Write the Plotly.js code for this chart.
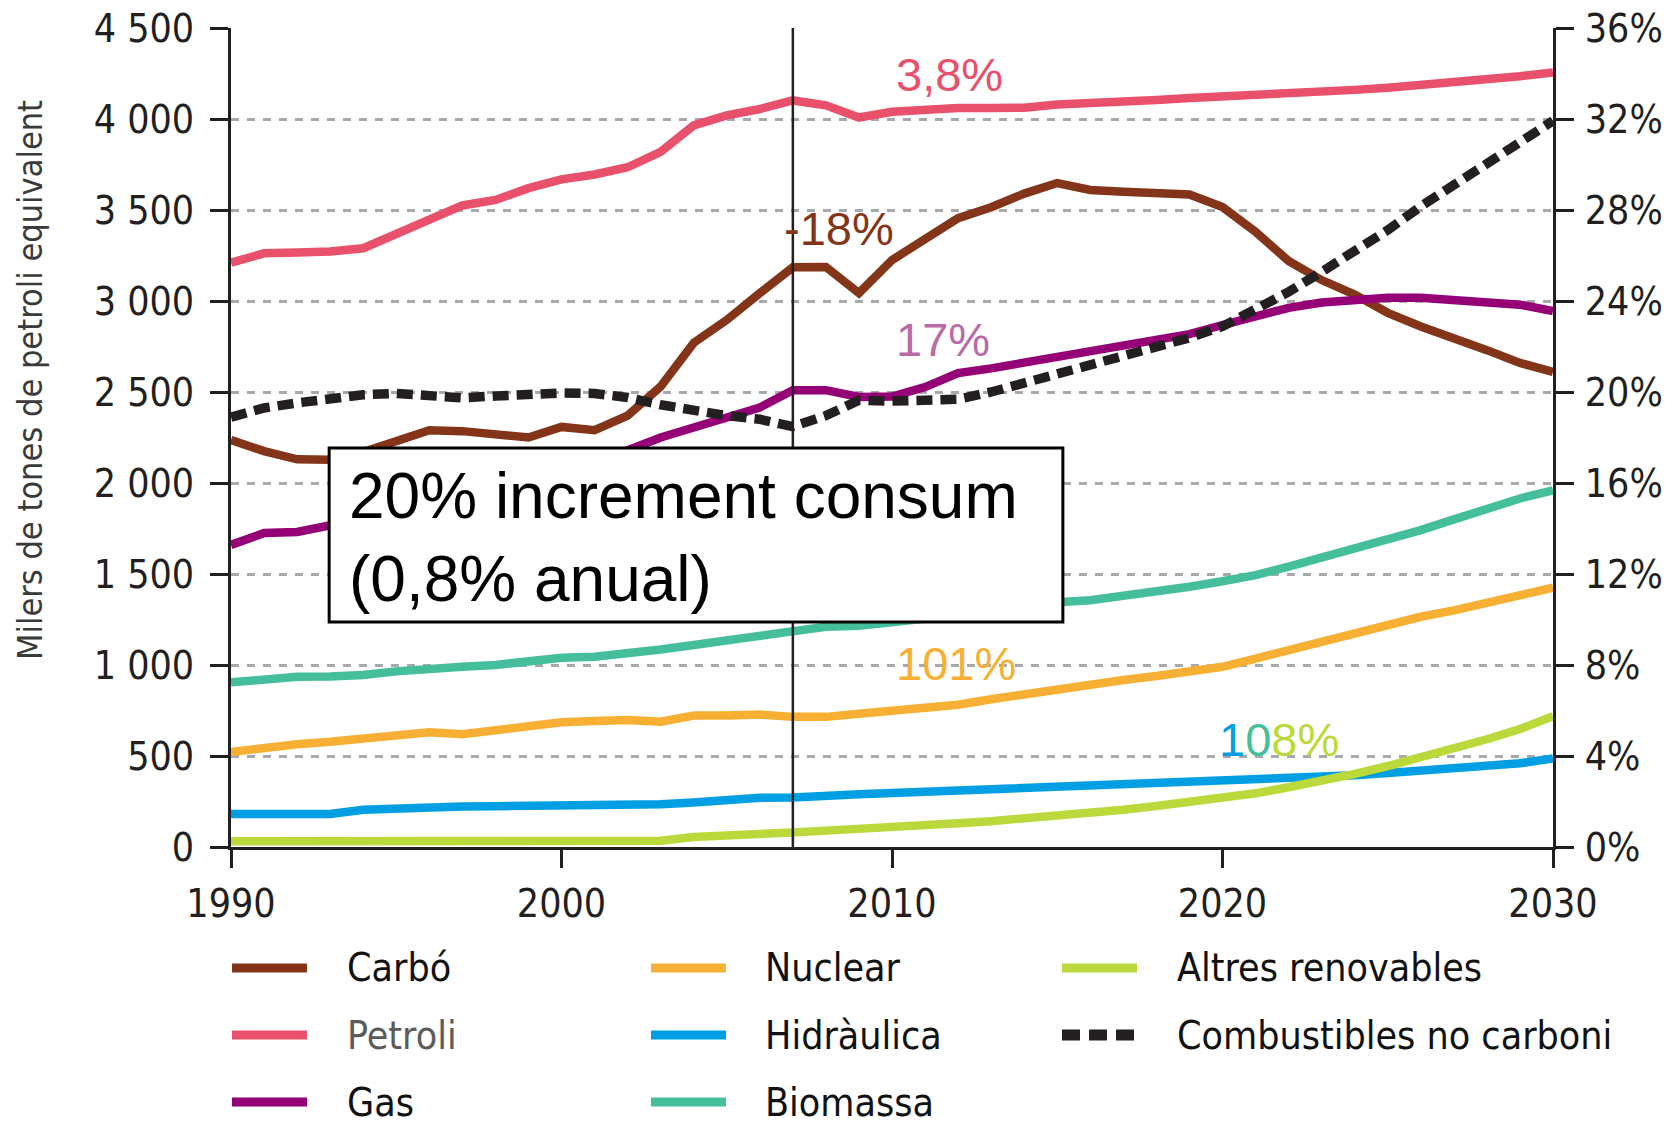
<!DOCTYPE html>
<html>
<head>
<meta charset="utf-8">
<script src="https://cdn.plot.ly/plotly-3.0.1.min.js"></script>
<style>
html,body{margin:0;padding:0;background:#ffffff;}
#chart{width:1678px;height:1124px;}
</style>
</head>
<body>
<div id="chart"></div>
<script>
// ---------- DATA ----------
const years = [1990,1991,1992,1993,1994,1995,1996,1997,1998,1999,
               2000,2001,2002,2003,2004,2005,2006,2007,2008,2009,
               2010,2011,2012,2013,2014,2015,2016,2017,2018,2019,
               2020,2021,2022,2023,2024,2025,2026,2027,2028,2029,2030];

const carbo = [2236,2175,2130,2128,2170,2235,2290,2285,2268,2250,
               2308,2290,2370,2530,2770,2896,3043,3185,3187,3044,
               3225,3340,3455,3515,3590,3648,3610,3600,3590,3585,
               3516,3380,3220,3115,3035,2935,2860,2800,2730,2660,2610];

const petroli = [3210,3262,3266,3272,3290,3365,3445,3525,3555,3620,
                 3668,3695,3735,3820,3965,4020,4055,4102,4075,4008,
                 4040,4055,4060,4060,4062,4080,4085,4095,4105,4115,
                 4122,4130,4138,4148,4160,4172,4186,4200,4218,4235,4255];

const gas = [1660,1725,1731,1765,1800,1840,1880,1925,1970,2015,
             2060,2110,2180,2250,2305,2362,2415,2510,2510,2473,
             2475,2527,2604,2630,2660,2690,2718,2747,2782,2818,
             2868,2918,2962,2992,3008,3018,3018,3005,2992,2980,2945];

const nuclear = [522,548,565,578,592,612,630,620,640,665,
                 685,692,698,688,722,722,728,715,715,732,
                 750,765,782,812,841,865,894,918,940,962,
                 990,1035,1082,1129,1171,1224,1265,1300,1341,1382,1425];

const hidraulica = [181,181,181,181,205,214,218,222,224,225,
                    225,225,228,235,245,262,270,272,285,290,
                    297,304,310,316,322,328,334,340,346,352,
                    360,366,375,382,394,406,418,430,444,460,487];

const biomassa = [905,925,935,937,945,965,983,990,1000,1020,
                  1040,1045,1060,1085,1110,1135,1155,1180,1210,1215,
                  1232,1255,1275,1298,1322,1345,1356,1378,1405,1430,
                  1460,1494,1540,1588,1635,1688,1741,1800,1860,1915,1960];

const altresRenovables = [32,32,32,32,32,32,32,32,32,32,
                          32,32,32,34,55,60,70,80,90,98,
                          108,118,130,142,155,170,187,205,225,248,
                          268,295,328,362,402,445,492,540,592,648,718];

const combustiblesNoCarboni = [2362,2412,2440,2465,2485,2492,2478,2468,2478,2490,
                               2495,2492,2470,2430,2395,2370,2350,2310,2370,2455,
                               2450,2450,2460,2500,2550,2600,2645,2695,2745,2798,
                               2860,2950,3050,3160,3270,3390,3520,3640,3750,3870,3990];

const xTickVals = [1990,2000,2010,2020,2030];
const xTickText = ['1990','2000','2010','2020','2030'];
const yTickVals = [0,500,1000,1500,2000,2500,3000,3500,4000,4500];
const yTickText = ['0','500','1 000','1 500','2 000','2 500','3 000','3 500','4 000','4 500'];
const y2TickVals = [0,4,8,12,16,20,24,28,32,36];
const y2TickText = ['0%','4%','8%','12%','16%','20%','24%','28%','32%','36%'];

const seriesNames = ['Carbó','Petroli','Gas','Nuclear','Hidràulica','Biomassa','Altres renovables','Combustibles no carboni'];
const dividerYear = 2007;
const boxText = '20% increment consum<br>(0,8% anual)';
const changeLabels = ['3,8%','-18%','17%','101%'];
const changeLabelPos = [[2011.75,4242],[2008.4,3401],[2011.55,2786],[2011.95,1010]];
const renewLabelPos = [2021.7,591];
const boxRange = {x0:1992.97, x1:2015.17, y0:1236, y1:2192};
const boxTextPos = [1993.5, 1700];

// ---------- STYLE ----------
const C = {
  carbo:'#843519', petroli:'#e9506b', gas:'#950077', nuclear:'#f7b033',
  hidraulica:'#009fe3', biomassa:'#45bf9b', altres:'#bcd93b', comb:'#231f20'
};
const NARROW = '"DejaVu Sans Condensed", "Liberation Sans Narrow", sans-serif';
const ARIAL = '"Liberation Sans", Arial, sans-serif';
const INK = '#231f20';

const seriesDefs = [
  {name:seriesNames[0], y:carbo, color:C.carbo},
  {name:seriesNames[2], y:gas, color:C.gas},
  {name:seriesNames[1], y:petroli, color:C.petroli},
  {name:seriesNames[3], y:nuclear, color:C.nuclear},
  {name:seriesNames[5], y:biomassa, color:C.biomassa},
  {name:seriesNames[4], y:hidraulica, color:C.hidraulica},
  {name:seriesNames[6], y:altresRenovables, color:C.altres},
  {name:seriesNames[7], y:combustiblesNoCarboni, color:C.comb, dash:'16px,8px', width:9.5}
];

const traces = seriesDefs.map(s => ({
  type:'scatter', mode:'lines', x:years, y:s.y, name:s.name,
  line:{color:s.color, width:s.width||8.5, dash:s.dash||'solid', shape:'linear'},
  cliponaxis:true, hoverinfo:'x+y+name', showlegend:false
}));
// invisible trace to activate the right-hand percentage axis
traces.push({type:'scatter', mode:'lines', x:[years[0], years[years.length-1]], y:[0,0],
  yaxis:'y2', line:{color:'rgba(0,0,0,0)', width:0}, hoverinfo:'skip', showlegend:false});

// ---------- LAYOUT ----------
const L = 231, R = 1553, T = 28, B = 847;
const px = v => (v - L) / (R - L);
const py = v => (B - v) / (B - T);

const shapes = [
  {type:'line', xref:'x', yref:'y', x0:dividerYear, x1:dividerYear, y0:0, y1:4500,
   line:{color:INK, width:2.5}, layer:'above'},
  {type:'rect', xref:'x', yref:'y', x0:boxRange.x0, x1:boxRange.x1, y0:boxRange.y0, y1:boxRange.y1,
   fillcolor:'#ffffff', line:{color:'#000000', width:3}, layer:'above'}
];

const annotations = [];
const changeColors = [C.petroli, C.carbo, '#b86ba6', C.nuclear];
changeLabels.forEach((t,i) => {
  annotations.push({xref:'x', yref:'y', x:changeLabelPos[i][0], y:changeLabelPos[i][1],
    text:t, showarrow:false, xanchor:'center', yanchor:'middle',
    font:{family:ARIAL, size:47, color:changeColors[i]}});
});
annotations.push({xref:'x', yref:'y', x:renewLabelPos[0], y:renewLabelPos[1],
  text:'<span style="color:'+C.hidraulica+'">1</span><span style="color:'+C.biomassa+'">0</span><span style="color:'+C.altres+'">8%</span>',
  showarrow:false, xanchor:'center', yanchor:'middle', font:{family:ARIAL, size:47, color:C.altres}});
annotations.push({xref:'x', yref:'y', x:boxTextPos[0], y:boxTextPos[1], text:boxText,
  showarrow:false, xanchor:'left', yanchor:'middle', align:'left',
  font:{family:ARIAL, size:64, color:'#000000'}});
// y axis title
annotations.push({xref:'paper', yref:'paper', x:px(30), y:py(380), text:'Milers de tones de petroli equivalent',
  textangle:-90, showarrow:false, xanchor:'center', yanchor:'middle',
  font:{family:'"DejaVu Sans Condensed", "DejaVu Sans", sans-serif', size:34, color:'#3a3a3a'}});

// manual legend (three columns)
const legendCols = [[0,1,2],[3,4,5],[6,7]];
const colLineX = [232, 651, 1062];
const colTextX = [345, 763, 1175];
const rowY = [968, 1035, 1102];
const colorByName = {};
seriesDefs.forEach(s => colorByName[s.name] = s);
legendCols.forEach((col, ci) => {
  col.forEach((si, ri) => {
    const s = colorByName[seriesNames[si]];
    const isDash = !!s.dash;
    shapes.push({type:'line', xref:'paper', yref:'paper',
      x0:px(colLineX[ci]), x1:px(colLineX[ci]+75), y0:py(rowY[ri]), y1:py(rowY[ri]),
      line:{color:s.color, width:isDash?11:9, dash:isDash?'18px,9px':'solid'}});
    annotations.push({xref:'paper', yref:'paper', x:px(colTextX[ci]), y:py(rowY[ri]),
      text:s.name, showarrow:false, xanchor:'left', yanchor:'middle',
      font:{family:NARROW, size:39, color: s.name==='Petroli' ? '#5b5b5b' : '#111111'}});
  });
});

const axisCommon = {
  showline:true, linecolor:INK, linewidth:3, ticks:'outside', ticklen:18, tickwidth:3,
  tickcolor:INK, zeroline:false, fixedrange:true,
  tickfont:{family:NARROW, size:39, color:INK}
};

const layout = {
  width:1678, height:1124,
  margin:{l:L, r:1678-R, t:T, b:1124-B, pad:0},
  paper_bgcolor:'#ffffff', plot_bgcolor:'#ffffff',
  showlegend:false,
  xaxis:Object.assign({}, axisCommon, {range:[1990,2030], tickmode:'array', tickvals:xTickVals,
    ticktext:xTickText, showgrid:false, ticklabelstandoff:2}),
  yaxis:Object.assign({}, axisCommon, {range:[0,4500], tickmode:'array', tickvals:yTickVals,
    ticktext:yTickText, showgrid:true, gridcolor:'#a7a9ac', gridwidth:3, griddash:'8px,8px',
    ticklabelstandoff:8}),
  yaxis2:Object.assign({}, axisCommon, {range:[0,36], overlaying:'y', side:'right', tickmode:'array',
    tickvals:y2TickVals, ticktext:y2TickText, showgrid:false, ticklabelstandoff:3}),
  shapes:shapes,
  annotations:annotations
};

Plotly.newPlot('chart', traces, layout, {displayModeBar:false, staticPlot:true});
</script>
</body>
</html>
